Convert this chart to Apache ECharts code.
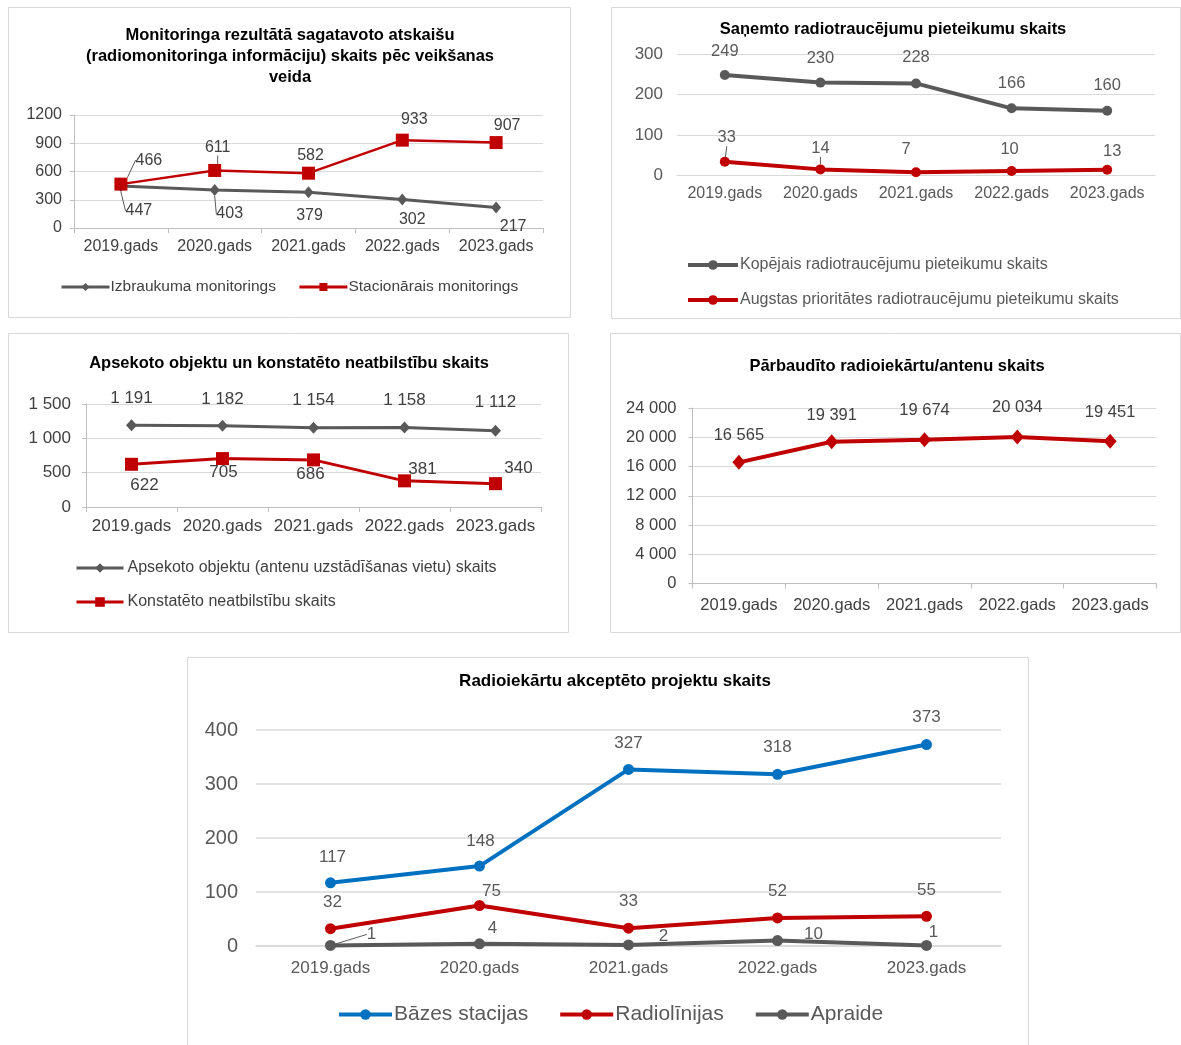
<!DOCTYPE html>
<html><head><meta charset="utf-8">
<script src="https://cdn.jsdelivr.net/npm/echarts@6/dist/echarts.min.js"></script>
<style>html,body{margin:0;padding:0;background:#fff}#c{width:1181px;height:1045px}</style>
</head><body><div id="c"></div>
<script>
// ---------- DATA ----------
const years = ['2019.gads', '2020.gads', '2021.gads', '2022.gads', '2023.gads'];

const c1Title = 'Monitoringa rezultātā sagatavoto atskaišu\n(radiomonitoringa informāciju) skaits pēc veikšanas\nveida';
const c1Names = ['Izbraukuma monitorings', 'Stacionārais monitorings'];
const c1Izbraukuma = [447, 403, 379, 302, 217];
const c1Stacionarais = [466, 611, 582, 933, 907];

const c2Title = 'Saņemto radiotraucējumu pieteikumu skaits';
const c2Names = ['Kopējais radiotraucējumu pieteikumu skaits', 'Augstas prioritātes radiotraucējumu pieteikumu skaits'];
const c2Kopejais = [249, 230, 228, 166, 160];
const c2Augstas = [33, 14, 7, 10, 13];

const c3Title = 'Apsekoto objektu un konstatēto neatbilstību skaits';
const c3Names = ['Apsekoto objektu (antenu uzstādīšanas vietu) skaits', 'Konstatēto neatbilstību skaits'];
const c3Apsekoto = [1191, 1182, 1154, 1158, 1112];
const c3Neatbilstibas = [622, 705, 686, 381, 340];

const c4Title = 'Pārbaudīto radioiekārtu/antenu skaits';
const c4Parbaudito = [16565, 19391, 19674, 20034, 19451];

const c5Title = 'Radioiekārtu akceptēto projektu skaits';
const c5Names = ['Bāzes stacijas', 'Radiolīnijas', 'Apraide'];
const c5Bazes = [117, 148, 327, 318, 373];
const c5Radiolinijas = [32, 75, 33, 52, 55];
const c5Apraide = [1, 4, 2, 10, 1];

// ---------- LAYOUT / STYLE ----------
const FONT = '"Liberation Sans", Arial, sans-serif';
const GRAY = '#595959', RED = '#c00000', BLUE = '#0070c0';
const sp = v => String(v).replace(/\B(?=(\d{3})+(?!\d))/g, ' ');
const plain = v => String(v);

// label offsets (label centre relative to point)
const L = {
  c1g: [[18, 25], [15, 24], [1, 23], [10, 20], [17, 19]],
  c1r: [[28, -24], [3, -23], [2, -18], [12, -21], [11, -17]],
  c2g: [[0, -24], [0, -24], [0, -26], [0, -25], [0, -25]],
  c2r: [[2, -24], [0, -21], [-10, -23], [-2, -22], [5, -18]],
  c3g: [[0, -27], [0, -27], [0, -27], [0, -27], [0, -28]],
  c3r: [[13, 21], [1, 14], [-3, 14], [18, -12], [23, -15]],
  c4: [[0, -27], [0, -26], [0, -29], [0, -30], [0, -29]],
  c5b: [[2, -26], [1, -25], [0, -26], [0, -27], [0, -27]],
  c5r: [[2, -26], [12, -14], [0, -27], [0, -27], [0, -26]],
  c5g: [[41, -11], [13, -16], [35, -9], [36, -6], [7, -13]]
};
const LEAD = {
  c1g: [1, 1, 0, 0, 0], c1r: [1, 1, 0, 0, 0], c2r: [1, 1, 0, 0, 0], c5g: [1, 0, 0, 0, 0]
};

function series(name, values, idx, color, symbol, size, width, key, fmt, labelColor, fontSize) {
  const offs = L[key];
  const lead = LEAD[key] || [0, 0, 0, 0, 0];
  return {
    type: 'line', name, xAxisIndex: idx, yAxisIndex: idx,
    data: values.map((v, i) => ({ value: v, labelLine: { show: !!lead[i] } })),
    symbol, symbolSize: size, showAllSymbol: true,
    lineStyle: { color, width }, itemStyle: { color },
    label: {
      show: true, position: 'inside', color: labelColor, fontSize, fontFamily: FONT,
      formatter: p => fmt(p.value)
    },
    labelLine: { show: false, lineStyle: { color: '#595959', width: 1 } },
    labelLayout: p => ({ dx: offs[p.dataIndex][0], dy: offs[p.dataIndex][1] }),
    emphasis: { disabled: true }
  };
}

function xAx(idx, o) {
  const base = {
    type: 'category', gridIndex: idx, data: years, boundaryGap: true,
    axisLine: { show: true, lineStyle: { color: '#bfbfbf', width: 1 } },
    axisTick: { show: true, interval: 0, alignWithLabel: false, length: 5, lineStyle: { color: '#bfbfbf' } },
    axisLabel: { interval: 0, color: '#404040', fontSize: 16, fontFamily: FONT, margin: 11 }
  };
  const r = Object.assign(base, o);
  r.axisLabel = Object.assign({ interval: 0, fontFamily: FONT }, r.axisLabel);
  return r;
}
function yAx(idx, min, max, interval, fmt, o) {
  return Object.assign({
    type: 'value', gridIndex: idx, min, max, interval,
    axisLine: { show: true, lineStyle: { color: '#bfbfbf' } },
    axisTick: { show: true, length: 4, lineStyle: { color: '#bfbfbf' } },
    splitLine: { show: true, lineStyle: { color: '#d9d9d9', width: 1 } },
    axisLabel: { color: '#404040', fontSize: 16, fontFamily: FONT, margin: 12, formatter: fmt }
  }, o);
}
function ttl(text, x, top, size) {
  return {
    text, left: x, top, textAlign: 'center', padding: 0,
    textStyle: { fontFamily: FONT, fontWeight: 'bold', fontSize: size || 16.5, color: '#000', lineHeight: 21 }
  };
}
function box(x, y, w, h) {
  return { type: 'rect', shape: { x: x + 0.5, y: y + 0.5, width: w, height: h }, style: { fill: 'none', stroke: '#d9d9d9', lineWidth: 1 }, silent: true, z: -1 };
}

const option = {
  animation: false,
  backgroundColor: '#fff',
  graphic: [
    box(8, 7, 562, 310), box(611, 7, 569, 311), box(8, 333, 560, 299), box(610, 333, 570, 299), box(187, 657, 841, 400)
  ],
  title: [
    ttl(c1Title, 290, 25), ttl(c2Title, 893, 19), ttl(c3Title, 289, 353), ttl(c4Title, 897, 356), ttl(c5Title, 615, 671, 17)
  ],
  grid: [
    { left: 74, top: 115, width: 469, height: 113 },
    { left: 677, top: 54.5, width: 478, height: 120.5 },
    { left: 86, top: 404, width: 455, height: 103 },
    { left: 692.5, top: 408, width: 464, height: 175.5 },
    { left: 256, top: 730, width: 745, height: 216 }
  ],
  xAxis: [
    xAx(0, {}),
    xAx(1, { axisLine: { show: true, lineStyle: { color: '#d9d9d9' } }, axisTick: { show: false }, axisLabel: { color: '#595959', fontSize: 16, margin: 11 } }),
    xAx(2, { axisLabel: { color: '#404040', fontSize: 17, margin: 11 } }),
    xAx(3, { axisLabel: { color: '#404040', fontSize: 16.5, margin: 13 } }),
    xAx(4, { axisLine: { show: true, lineStyle: { color: '#d9d9d9', width: 1.5 } }, axisTick: { show: false }, axisLabel: { color: '#595959', fontSize: 17, margin: 14 } })
  ],
  yAxis: [
    yAx(0, 0, 1200, 300, plain),
    yAx(1, 0, 300, 100, plain, { axisLine: { show: false }, axisTick: { show: false }, axisLabel: { color: '#595959', fontSize: 17, fontFamily: FONT, margin: 14 } }),
    yAx(2, 0, 1500, 500, sp, { axisLabel: { color: '#404040', fontSize: 17, fontFamily: FONT, margin: 15, formatter: sp } }),
    yAx(3, 0, 24000, 4000, sp, { axisLabel: { color: '#404040', fontSize: 16.5, fontFamily: FONT, margin: 16, formatter: sp } }),
    yAx(4, 0, 400, 100, plain, { axisLine: { show: false }, axisTick: { show: false }, splitLine: { lineStyle: { color: '#d9d9d9', width: 1.5 } }, axisLabel: { color: '#595959', fontSize: 20, fontFamily: FONT, margin: 18 } })
  ],
  legend: [
    { data: c1Names, orient: 'horizontal', left: 60, top: 279, padding: 0, itemWidth: 48, itemHeight: 10, itemGap: 22,
      lineStyle: { width: 3 },
      textStyle: { color: '#404040', fontSize: 15.5, fontFamily: FONT, padding: [0, 0, 0, -4] } },
    { data: c2Names, orient: 'vertical', left: 686, top: 257, padding: 0, itemWidth: 50, itemHeight: 12, itemGap: 19,
      lineStyle: { width: 4 },
      textStyle: { color: '#595959', fontSize: 16, fontFamily: FONT, padding: [0, 0, 0, -3] } },
    { data: c3Names, orient: 'vertical', left: 75, top: 560, padding: 0, itemWidth: 47, itemHeight: 12, itemGap: 18,
      lineStyle: { width: 3 },
      textStyle: { color: '#404040', fontSize: 16, fontFamily: FONT, padding: [0, 0, 0, -1] } },
    { data: c5Names, orient: 'horizontal', left: 337, top: 1004, padding: 0, itemWidth: 53, itemHeight: 13, itemGap: 30,
      lineStyle: { width: 4 },
      textStyle: { color: '#595959', fontSize: 21, fontFamily: FONT, padding: [0, 0, 0, -3] } }
  ],
  series: [
    series(c1Names[0], c1Izbraukuma, 0, GRAY, 'diamond', [10, 12], 3, 'c1g', plain, '#404040', 16),
    series(c1Names[1], c1Stacionarais, 0, RED, 'rect', 13, 2.5, 'c1r', plain, '#404040', 16),
    series(c2Names[0], c2Kopejais, 1, GRAY, 'circle', 10, 4, 'c2g', plain, '#595959', 16.5),
    series(c2Names[1], c2Augstas, 1, RED, 'circle', 10, 4, 'c2r', plain, '#595959', 16.5),
    series(c3Names[0], c3Apsekoto, 2, GRAY, 'diamond', [11, 12], 3, 'c3g', sp, '#404040', 17),
    series(c3Names[1], c3Neatbilstibas, 2, RED, 'rect', 13, 3, 'c3r', sp, '#404040', 17),
    series(c4Title, c4Parbaudito, 3, RED, 'diamond', [13, 15], 4, 'c4', sp, '#404040', 16.5),
    series(c5Names[0], c5Bazes, 4, BLUE, 'circle', 11, 4, 'c5b', plain, '#595959', 17),
    series(c5Names[1], c5Radiolinijas, 4, RED, 'circle', 11, 4, 'c5r', plain, '#595959', 17),
    series(c5Names[2], c5Apraide, 4, GRAY, 'circle', 11, 4, 'c5g', plain, '#595959', 17)
  ]
};
const chart = echarts.init(document.getElementById('c'), null, { renderer: 'canvas' });
chart.setOption(option);
</script></body></html>
